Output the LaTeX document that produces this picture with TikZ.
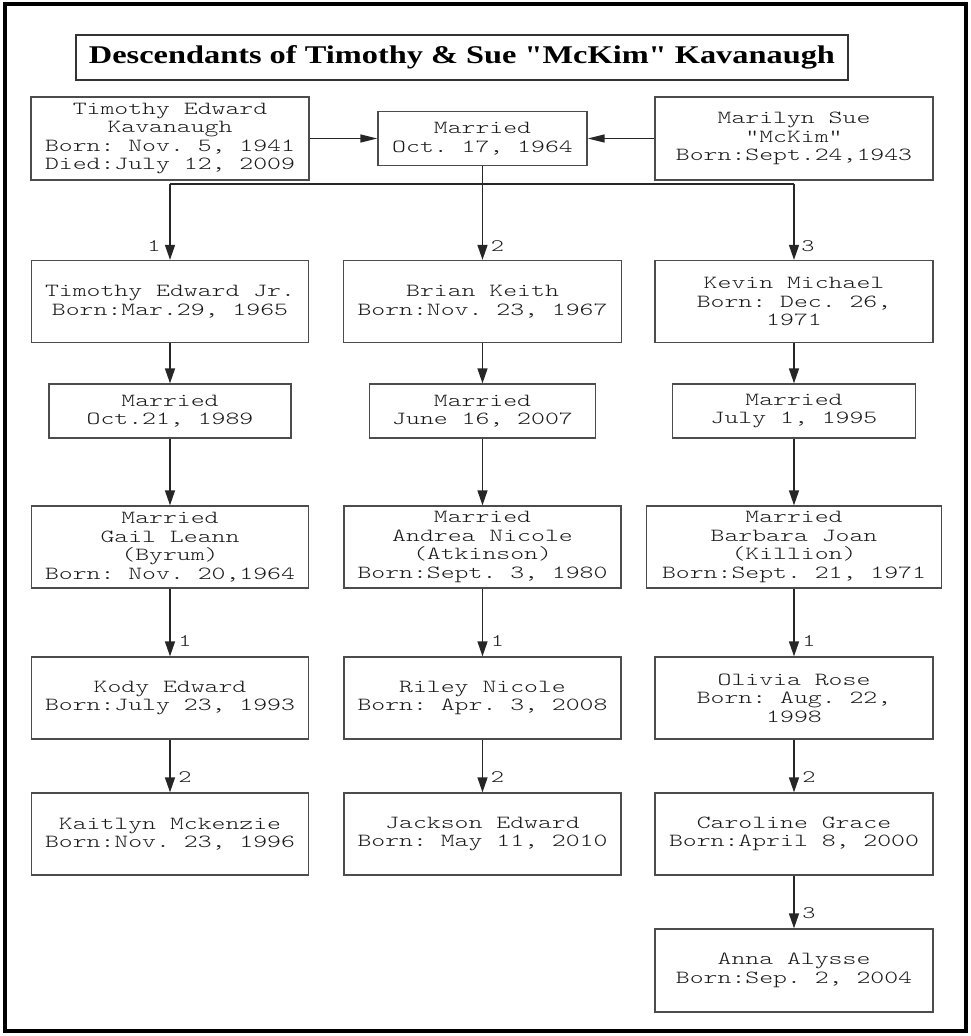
\documentclass[tikz,border=0pt]{standalone}
\usepackage{fontspec}
\usetikzlibrary{arrows.meta}
\newfontfamily\monofam[FakeStretch=1.43]{lmmonolt10-regular.otf}
\newfontfamily\titlefam[FakeStretch=1.27]{Liberation Serif}
\frenchspacing
\tikzset{
  box/.style={draw=black!70, line width=1.3pt, rectangle, align=center, inner sep=0pt,
    font={\monofam\frenchspacing\fontsize{18.5pt}{18.5pt}\selectfont}, text=black!90},
  pbox/.style={box, minimum width=277pt, minimum height=82pt},
  mbox/.style={box, minimum width=#1, minimum height=54pt},
  conn/.style={draw=black!85, line width=1.4pt},
  arr/.style={conn, -{Triangle[length=15pt,width=10pt]}},
  harr/.style={conn, -{Triangle[length=17pt,width=8pt]}},
  lab/.style={inner sep=0pt, font={\monofam\fontsize{17.5pt}{18pt}\selectfont}, text=black!90}
}
\begin{document}
\begin{tikzpicture}[x=1pt,y=-1pt]
\useasboundingbox (0,0) rectangle (971,1036);
\draw[line width=4.5pt] (5,4) rectangle (966,1031);
% title
\node[draw=black!80, line width=1.4pt, minimum width=772pt, minimum height=45pt, inner sep=0pt,
  font={\titlefam\bfseries\fontsize{25.5pt}{28pt}\selectfont}] (title) at (462,57.5)
  {Descendants of Timothy \& Sue "McKim" Kavanaugh};
% top row
\node[pbox, minimum width=278pt, minimum height=83pt] (tim) at (170,138.5)
  {Timothy Edward\\Kavanaugh\\Born: Nov. 5, 1941\\Died:July 12, 2009};
\node[mbox=209pt] (mar) at (482.5,138.5) {Married\\Oct. 17, 1964};
\node[pbox, minimum width=278pt, minimum height=83pt] (sue) at (794,138.5)
  {Marilyn Sue\\"McKim"\\Born:Sept.24,1943};
% children
\node[pbox] (c1) at (170,301.5) {Timothy Edward Jr.\\Born:Mar.29, 1965};
\node[pbox, minimum width=278pt] (c2) at (482.5,301.5) {Brian Keith\\Born:Nov. 23, 1967};
\node[pbox, minimum width=278pt] (c3) at (794,301.5) {Kevin Michael\\Born: Dec. 26,\\1971};
% marriages
\node[mbox=242pt] (m1) at (170,411) {Married\\Oct.21, 1989};
\node[mbox=226pt] (m2) at (482.5,411) {Married\\June 16, 2007};
\node[mbox=243pt] (m3) at (794,411) {Married\\July 1, 1995};
% spouses
\node[pbox] (s1) at (170,547) {Married\\Gail Leann\\(Byrum)\\Born: Nov. 20,1964};
\node[pbox] (s2) at (482.5,547) {Married\\Andrea Nicole\\(Atkinson)\\Born:Sept. 3, 1980};
\node[pbox, minimum width=295pt] (s3) at (794,547) {Married\\Barbara Joan\\(Killion)\\Born:Sept. 21, 1971};
% grandchildren
\node[pbox] (g1a) at (170,698) {Kody Edward\\Born:July 23, 1993};
\node[pbox] (g2a) at (482.5,698) {Riley Nicole\\Born: Apr. 3, 2008};
\node[pbox, minimum width=278pt] (g3a) at (794,698) {Olivia Rose\\Born: Aug. 22,\\1998};
\node[pbox] (g1b) at (170,834) {Kaitlyn Mckenzie\\Born:Nov. 23, 1996};
\node[pbox] (g2b) at (482.5,834) {Jackson Edward\\Born: May 11, 2010};
\node[pbox, minimum width=278pt] (g3b) at (794,834) {Caroline Grace\\Born:April 8, 2000};
\node[pbox, minimum width=278pt, minimum height=83pt] (g3c) at (794,970.5) {Anna Alysse\\Born:Sep. 2, 2004};
% connectors top
\draw[harr] (tim.east) -- (mar.west);
\draw[harr] (sue.west) -- (mar.east);
\coordinate (hl) at (170,184);
\coordinate (hr) at (794,184);
\draw[conn] (hl) -- (hr);
\draw[arr] (hl) -- (c1.north);
\draw[arr] (mar.south) -- (c2.north);
\draw[arr] (hr) -- (c3.north);
\path (c1.north) ++(-16,-14) node[lab] (l1) {1};
\path (c2.north) ++(15,-14) node[lab] (l2) {2};
\path (c3.north) ++(14,-14) node[lab] (l3) {3};
% columns
\draw[arr] (c1.south) -- (m1.north);
\draw[arr] (m1.south) -- (s1.north);
\draw[arr] (s1.south) -- (g1a.north);
\draw[arr] (g1a.south) -- (g1b.north);
\draw[arr] (c2.south) -- (m2.north);
\draw[arr] (m2.south) -- (s2.north);
\draw[arr] (s2.south) -- (g2a.north);
\draw[arr] (g2a.south) -- (g2b.north);
\draw[arr] (c3.south) -- (m3.north);
\draw[arr] (m3.south) -- (s3.north);
\draw[arr] (s3.south) -- (g3a.north);
\draw[arr] (g3a.south) -- (g3b.north);
\draw[arr] (g3b.south) -- (g3c.north);
\path (g1a.north) ++(15,-15) node[lab] (la1) {1};
\path (g1b.north) ++(15,-15) node[lab] (lb1) {2};
\path (g2a.north) ++(15,-15) node[lab] (la2) {1};
\path (g2b.north) ++(15,-15) node[lab] (lb2) {2};
\path (g3a.north) ++(15,-15) node[lab] (la3) {1};
\path (g3b.north) ++(15,-15) node[lab] (lb3) {2};
\path (g3c.north) ++(15,-15) node[lab] (lc3) {3};
\end{tikzpicture}
\end{document}
